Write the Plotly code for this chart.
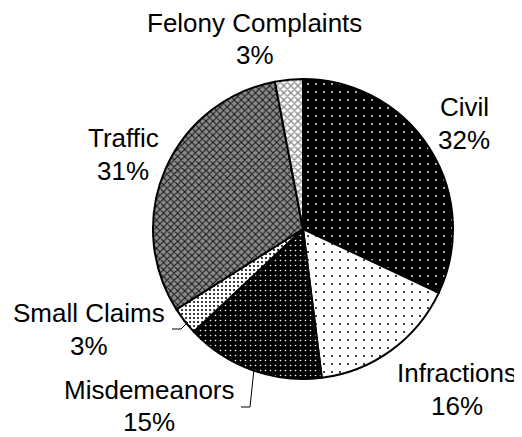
import plotly.graph_objects as go

categories = ["Civil", "Infractions", "Misdemeanors", "Small Claims", "Traffic", "Felony Complaints"]
values = [32, 16, 15, 3, 31, 3]

W, H = 522, 437
OFF = 8  # page body margin in the browser
FW, FH = W - OFF, H - OFF


def px2paper(px, py):
    return (px - OFF) / FW, 1 - (py - OFF) / FH


# fill patterns per slice (style)
pat_shape = [".", ".", ".", ".", "x", "x"]
pat_bg = ["#000000", "#ffffff", "#000000", "#ffffff", "#8a8a8a", "#ffffff"]
pat_fg = ["#ffffff", "#000000", "#ffffff", "#000000", "#111111", "#8a8a8a"]
pat_size = [8, 8, 5, 4, 5, 5]
pat_sol = [0.04, 0.05, 0.08, 0.2, 0.35, 0.45]

# pie position in pixels (layout)
cx, cy, r = 303, 229, 150
x0, y1 = px2paper(cx - r, cy - r)
x1, y0 = px2paper(cx + r, cy + r)

fig = go.Figure(go.Pie(
    labels=categories,
    values=values,
    sort=False,
    direction="clockwise",
    rotation=0,
    textinfo="none",
    hoverinfo="label+percent",
    showlegend=False,
    marker=dict(
        colors=pat_bg,
        line=dict(color="#000000", width=2),
        pattern=dict(shape=pat_shape, bgcolor=pat_bg, fgcolor=pat_fg,
                     size=pat_size, solidity=pat_sol, fillmode="replace"),
    ),
    domain=dict(x=[x0, x1], y=[y0, y1]),
))

# label positions in pixels (layout): x centre, name line y, percent line y
label_pos = {
    "Felony Complaints": (254.5, 23, 55),
    "Civil": (464, 107, 140),
    "Traffic": (123, 138, 171),
    "Small Claims": (89, 313, 346),
    "Misdemeanors": (149, 390, 422),
    "Infractions": (457, 373, 406),
}
total = sum(values)
font = dict(family="Liberation Sans, Arial, sans-serif", size=26, color="#000000")
for cat, v in zip(categories, values):
    lx, ly1, ly2 = label_pos[cat]
    for txt, ly in ((cat, ly1), (f"{round(100 * v / total)}%", ly2)):
        ax, ay = px2paper(lx, ly)
        fig.add_annotation(
            x=ax, y=ay, xref="paper", yref="paper", text=txt,
            showarrow=False, xanchor="center", yanchor="middle",
            borderpad=0, font=font,
        )

# leader lines (pixels)
leaders = [
    [(172, 329), (181, 329), (188, 322)],
    [(241, 407), (250, 407), (254, 369)],
]
for pts in leaders:
    conv = [px2paper(px, py) for px, py in pts]
    path = "M " + " L ".join(f"{a},{b}" for a, b in conv)
    fig.add_shape(type="path", path=path, xref="paper", yref="paper",
                  line=dict(color="#000000", width=1))

fig.update_layout(
    width=FW, height=FH,
    margin=dict(l=0, r=0, t=0, b=0),
    paper_bgcolor="#ffffff",
    plot_bgcolor="#ffffff",
)

fig.write_html("out.html")
